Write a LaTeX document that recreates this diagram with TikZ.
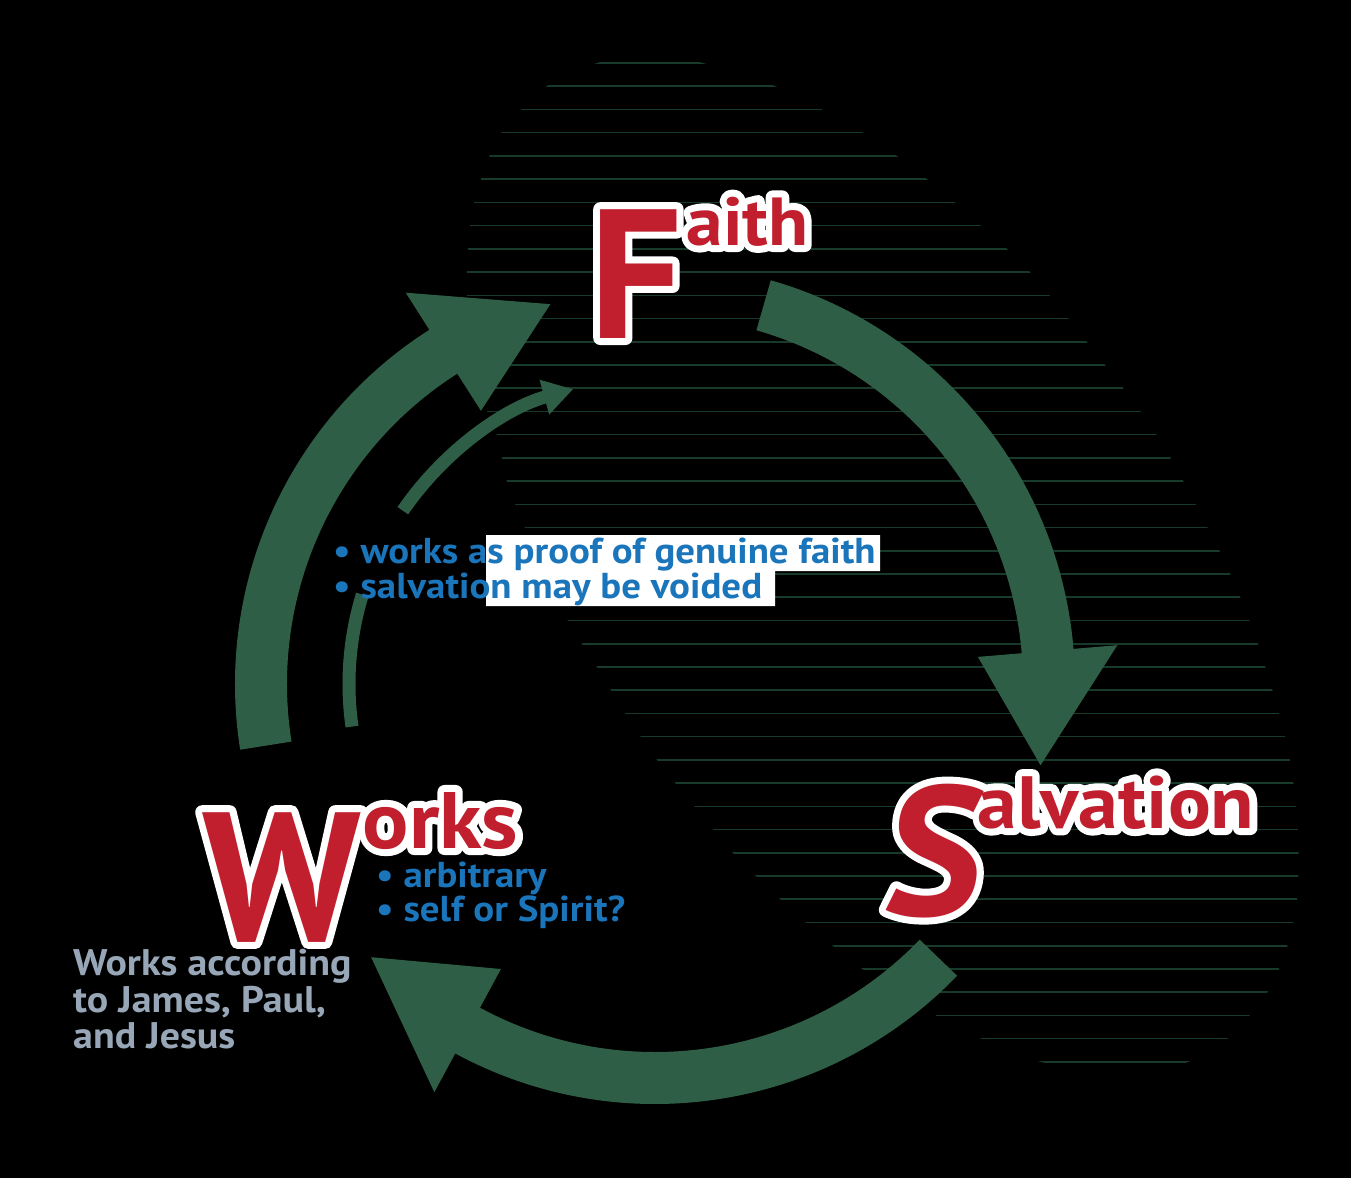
\documentclass[tikz,border=0pt]{standalone}
\usepackage{fontspec}
\setmainfont{PT Sans}
\newfontfamily\widesans{PT Sans}[FakeStretch=1.08]
\newfontfamily\slantsans{PT Sans}[FakeSlant=0.12]
\usetikzlibrary{arrows.meta}

\definecolor{cyclegreen}{RGB}{46,94,70}
\definecolor{linegreen}{RGB}{24,58,42}
\definecolor{headred}{RGB}{193,30,46}
\definecolor{listblue}{RGB}{27,117,187}
\definecolor{notegray}{RGB}{152,167,183}

\newcommand\bigletter{\fontsize{184}{184}\selectfont}
\newcommand\smallword[1]{\widesans\fontsize{#1}{#1}\selectfont}

% red word with a white rim (stroked copy underneath)
\newcommand\haloed[1]{%
	\rlap{\color{white}\special{pdf:literal direct 14 w 1 j 2 Tr}#1\special{pdf:literal direct 0 Tr}}%
	{\color{headred}#1}}

\tikzset{
	cyclearrow/.style={fill=cyclegreen},
	thinarrow/.style={draw=cyclegreen, line width=13pt},
	bgline/.style={draw=linegreen, line width=1.6pt},
	heading/.style={anchor=base west, inner sep=0pt, font=\bfseries},
	bluelist/.style={anchor=base west, inner sep=0pt, text=listblue, font=\widesans\fontsize{36}{36}\selectfont\bfseries},
	graynote/.style={anchor=base west, inner sep=0pt, text=notegray, font=\widesans\fontsize{37}{37}\selectfont\bfseries}
}

\begin{document}
\begin{tikzpicture}[x=1pt, y=-1pt]
	\useasboundingbox (0,0) rectangle (1351,1178);
	\fill[black] (0,0) rectangle (1351,1178);
	
	% striped drop behind the cycle
	\begin{scope}
		\clip plot[smooth cycle, tension=0.5] coordinates {
			(650,52) (703,63) (775,86) (862,132) (927,179) (980,225) (1030,272)
			(1105,365) (1160,440) (1220,552) (1250,622) (1273,692) (1290,760)
			(1298,830) (1297,900) (1287,947) (1267,993) (1227,1039) (1185,1063)
			(1115,1072) (1045,1063) (982,1039) (937,1016) (895,993) (833,946)
			(780,899) (733,853) (695,807) (657,760) (625,713) (597,667) (568,621)
			(545,575) (525,528) (507,482) (497,435) (480,390) (467,300) (470,225)
			(481,179) (502,132) (547,86) (597,63)};
		\foreach \k in {0,...,43}
			\draw[bgline] (400,{63+23.23*\k}) -- (1351,{63+23.23*\k});
	\end{scope}
	
	\begin{scope}[shift={(655,684)}]
		\foreach \tail/\base/\tip in {-189/-122.5/-105.4, -74/-4.8/11.9, 44/118.4/136.1}
			\fill[cyclearrow] (\tail:420) arc[start angle=\tail, end angle=\base, radius=420]
				-- (\base:464) -- (\tip:394) -- (\base:324) -- (\base:368)
				arc[start angle=\base, end angle=\tail, radius=368] -- cycle;
		
		\draw[thinarrow] (-188:306) arc[start angle=-188, end angle=-163, radius=306];
		\draw[thinarrow, -{Triangle[length=30pt 0, width=34pt 0]}] (-145.5:306)
			arc[start angle=-145.5, end angle=-105.5, radius=306];
	\end{scope}
	
	\fill[white] (486,535) -- (880,535) -- (880,571) -- (775,571) -- (775,606) -- (486,606) -- cycle;
	
	\node[bluelist] (proof) at (333,563) {• works as proof of genuine faith};
	\node[bluelist] (voided) at (333,598) {• salvation may be voided};
	\node[bluelist] (arbitrary) at (376,887) {• arbitrary};
	\node[bluelist] (spirit) at (376,921) {• self or Spirit?};
	
	\node[graynote] (noteA) at (73,975) {Works according};
	\node[graynote] (noteB) at (73,1012) {to James, Paul,};
	\node[graynote] (noteC) at (73,1048) {and Jesus};
	
	\node[heading] (faith) at (589,338) {\haloed{{\bigletter F}\kern4pt\raisebox{93pt}{\smallword{68}aith}}};
	\node[heading] (works) at (202,941) {\haloed{{\bigletter W}\kern2pt\raisebox{93pt}{\smallword{80}orks}}};
	\node[heading] (salvation) at (880,915) {\haloed{{\slantsans\bigletter S}\raisebox{87pt}{\smallword{74}alvation}}};
\end{tikzpicture}
\end{document}
